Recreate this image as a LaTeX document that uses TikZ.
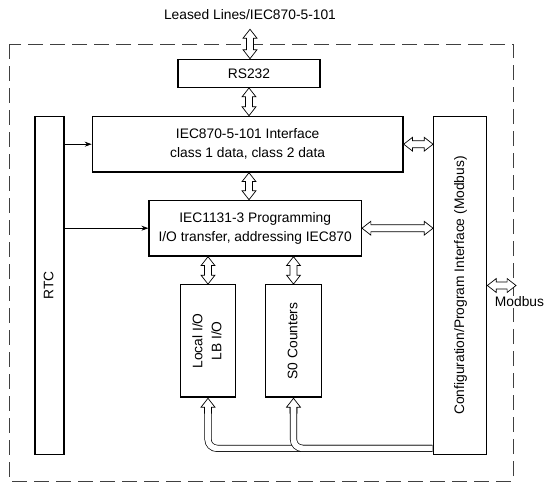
\documentclass[tikz,border=0pt]{standalone}
\usepackage{fontspec}
\setmainfont{Liberation Sans}
\usepackage{graphicx}
\usetikzlibrary{arrows.meta, shapes.arrows, calc}

\newcommand{\vtext}[1]{\rotatebox{90}{\begin{tabular}{@{}c@{}}#1\end{tabular}}}
\newcommand{\dblarrow}[2]{%
  \path let \p1=($(#2)-(#1)$), \n1={veclen(\x1,\y1)} in
    (#1) -- (#2) node[midway, sloped, hollow, minimum height=\n1] {};}

\begin{document}
\begin{tikzpicture}[x=1pt, y=-1pt,
    font=\fontsize{13.8}{19}\selectfont,
    box/.style={draw, line width=1.3pt, inner sep=0pt, align=center},
    dashframe/.style={draw=black!75, line width=0.8pt, dash pattern=on 15pt off 7pt},
    hollow/.style={double arrow, draw, fill=white, line width=0.7pt, inner xsep=0pt, inner ysep=3.2pt,
      minimum width=0pt, double arrow head extend=3.4pt, double arrow tip angle=76, double arrow head indent=0pt},
    pipehead/.style={single arrow, draw, fill=white, line width=0.7pt, inner xsep=0pt, inner ysep=3.2pt,
      minimum width=0pt, single arrow head extend=3.4pt, single arrow tip angle=76, single arrow head indent=0pt,
      minimum height=15pt, anchor=tip, rotate=90},
    pipe/.style={draw, line width=0.7pt, double=white, double distance=5.7pt, rounded corners=9pt},
    feed/.style={draw, line width=0.7pt, -{Stealth[length=7pt, width=5pt]}}]
  \useasboundingbox (0,0) rectangle (544,482);
  \draw[dashframe] (9,44) rectangle (513,481);

  \node[inner xsep=0pt, inner ysep=9pt] (leased) at (250,15) {Leased Lines/IEC870-5-101};
  \node[box, minimum width=142pt, minimum height=28pt] (rs232) at (249,73.3) {RS232};
  \node[box, minimum width=310.7pt, minimum height=55.7pt] (iec870) at (247.7,144.2)
    {IEC870-5-101 Interface\\class 1 data, class 2 data};
  \node[box, minimum width=212.3pt, minimum height=55.7pt] (iec1131) at (255.2,228.2)
    {IEC1131-3 Programming\\I/O transfer, addressing IEC870};
  \node[box, minimum width=29pt, minimum height=338.4pt] (rtc) at (49.5,285.5) {\vtext{RTC}};
  \node[box, minimum width=53pt, minimum height=338.4pt] (config) at (460.2,285.5)
    {\vtext{Configuration/Program Interface (Modbus)}};
  \node[box, minimum width=55.4pt, minimum height=112.3pt] (local) at (208,340.9) {\vtext{Local I/O\\LB I/O}};
  \node[box, minimum width=55.6pt, minimum height=112.3pt] (s0) at (293.5,340.9) {\vtext{S0 Counters}};
  \coordinate (mb) at (516,285.5);
  \node[fill=white, inner sep=1pt] (modbus) at (519.5,302) {Modbus};

  \dblarrow{leased.south}{leased.south |- rs232.north}
  \dblarrow{rs232.south}{rs232.south |- iec870.north}
  \dblarrow{iec870.south -| rs232.south}{iec1131.north -| rs232.south}
  \dblarrow{iec870.east}{iec870.east -| config.west}
  \dblarrow{iec1131.east}{iec1131.east -| config.west}
  \dblarrow{iec1131.south -| local.north}{local.north}
  \dblarrow{iec1131.south -| s0.north}{s0.north}
  \dblarrow{config.east}{mb}

  \draw[feed] (rtc.east |- iec870.west) -- (iec870.west);
  \draw[feed] (rtc.east |- iec1131.west) -- (iec1131.west);

  \coordinate (bus) at ([xshift=-0.7pt, yshift=7pt]config.south west);
  \node[pipehead] (locin) at (local.south) {};
  \node[pipehead] (s0in) at (s0.south) {};
  \draw[pipe] ([yshift=-9.5pt]local.south) |- (bus);
  \draw[pipe] ([yshift=-9.5pt]s0.south) |- (bus);
\end{tikzpicture}
\end{document}
